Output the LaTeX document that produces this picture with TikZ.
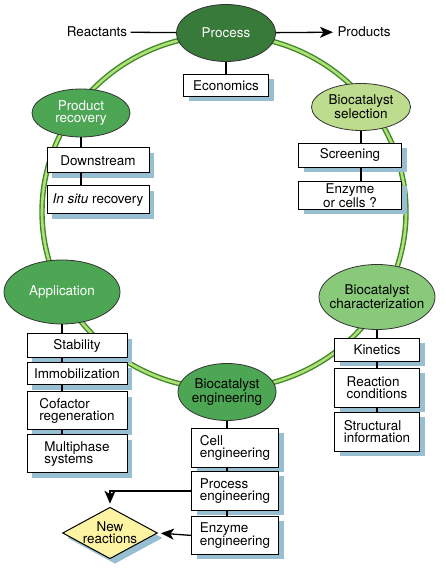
\documentclass[tikz,border=0pt]{standalone}
\usepackage{fontspec}
\setmainfont{TeX Gyre Heros}
\usetikzlibrary{positioning,shapes.geometric,shadows,arrows.meta}

\definecolor{procgreen}{RGB}{56,122,58}
\definecolor{midgreen}{RGB}{76,166,84}
\definecolor{chargreen}{RGB}{136,202,122}
\definecolor{selgreen}{RGB}{190,220,142}
\definecolor{ringdark}{RGB}{62,136,44}
\definecolor{ringlight}{RGB}{176,224,118}
\definecolor{shadowblue}{RGB}{152,190,210}
\definecolor{newyellow}{RGB}{252,244,162}

\tikzset{
  stage/.style={ellipse, draw=black!80, line width=0.8bp, inner sep=0pt, align=center},
  box/.style={rectangle, draw=black, fill=white, line width=1bp, inner sep=0pt, align=left,
    drop shadow={shadow xshift=5bp, shadow yshift=-5bp, fill=shadowblue, opacity=1}},
  link/.style={line width=1.3bp, black},
  flow/.style={link, -{Stealth[length=13bp, width=11bp, inset=3.5bp]}},
  ring/.style={draw=ringdark, double=ringlight, line width=1.4bp, double distance=2.6bp}
}

\begin{document}
\begin{tikzpicture}[x=1bp, y=1bp, font=\fontsize{13.5}{12}\selectfont]
  \useasboundingbox (0,0) rectangle (446,570);

  % The cycle
  \draw[ring] (224,358) ellipse [x radius=182, y radius=177];

  % Define stages
  \node[stage, fill=procgreen, text=white, minimum width=99bp, minimum height=57bp] (process) at (226,537) {Process};
  \node[stage, fill=midgreen, text=white, minimum width=98bp, minimum height=48bp] (prodrec) at (81,457) {Product\\recovery};
  \node[stage, fill=selgreen, minimum width=99bp, minimum height=47bp] (selection) at (361,463) {Biocatalyst\\selection};
  \node[stage, fill=midgreen, text=white, minimum width=116bp, minimum height=64bp] (application) at (62,278) {Application};
  \node[stage, fill=chargreen, inner xsep=-7.5bp, minimum width=116bp, minimum height=65bp] (character) at (377,273) {Biocatalyst\\characterization};
  \node[stage, fill=midgreen, inner xsep=-2bp, minimum width=98bp, minimum height=57bp] (engineering) at (227,178) {Biocatalyst\\engineering};

  \node (reactants) at (97,538) {Reactants};
  \node (products) at (364,538) {Products};

  % Define boxes
  \node[box, minimum width=85bp, minimum height=22bp, below=12bp of process] (economics) {Economics};

  \node[box, minimum width=102bp, minimum height=25bp, below=10bp of prodrec, xshift=17bp] (downstream) {Downstream};
  \node[box, minimum width=102bp, minimum height=28bp, below=12bp of downstream] (insitu) {\textit{In situ} recovery};

  \node[box, minimum width=103bp, minimum height=24bp, below=12bp of selection, xshift=-11bp] (screening) {Screening};
  \node[box, minimum width=103bp, minimum height=28bp, below=13bp of screening, align=center] (enzcells) {Enzyme\\or cells ?};

  \node[box, minimum width=100bp, minimum height=24bp, below=9bp of application, xshift=15bp] (stability) {Stability};
  \node[box, minimum width=100bp, minimum height=22bp, below=4bp of stability] (immobil) {Immobilization};
  \node[box, minimum width=100bp, minimum height=38bp, below=6bp of immobil] (cofactor) {Cofactor\\regeneration};
  \node[box, minimum width=100bp, minimum height=38bp, below=4bp of cofactor] (multiphase) {Multiphase\\systems};

  \node[box, minimum width=87bp, minimum height=39bp, below=7bp of engineering, xshift=8bp] (celleng) {Cell\\engineering};
  \node[box, minimum width=87bp, minimum height=39bp, below=3bp of celleng] (proceng) {Process\\engineering};
  \node[box, minimum width=87bp, minimum height=38bp, below=5bp of proceng] (enzeng) {Enzyme\\engineering};

  \node[box, minimum width=85bp, minimum height=23bp, below=8bp of character] (kinetics) {Kinetics};
  \node[box, minimum width=85bp, minimum height=39bp, below=6bp of kinetics] (reaccond) {Reaction\\conditions};
  \node[box, minimum width=85bp, minimum height=39bp, below=4bp of reaccond] (structinfo) {Structural\\information};

  \node[box, diamond, fill=newyellow, aspect=1.84, minimum width=92bp, minimum height=50bp, align=center] (newreac) at (110,37) {New\\reactions};

  % Connect the nodes
  \draw[link] (reactants) -- (process);
  \draw[flow, shorten >=1bp] (process) -- (products);
  \foreach \stem/\a/\b in {process/process/economics,
      prodrec/prodrec/downstream, prodrec/downstream/insitu,
      selection/selection/screening, selection/screening/enzcells,
      application/application/stability, application/stability/immobil,
      application/immobil/cofactor, application/cofactor/multiphase,
      engineering/engineering/celleng, engineering/celleng/proceng,
      engineering/proceng/enzeng,
      character/character/kinetics, character/kinetics/reaccond,
      character/reaccond/structinfo}
    \draw[link] (\a.south -| \stem.south) -- (\b.north -| \stem.south);
  \draw[flow, shorten >=3bp] (proceng.west) -| (newreac.north);
  \draw[flow, shorten >=3bp] (enzeng.west) -- (newreac.east);
\end{tikzpicture}
\end{document}
